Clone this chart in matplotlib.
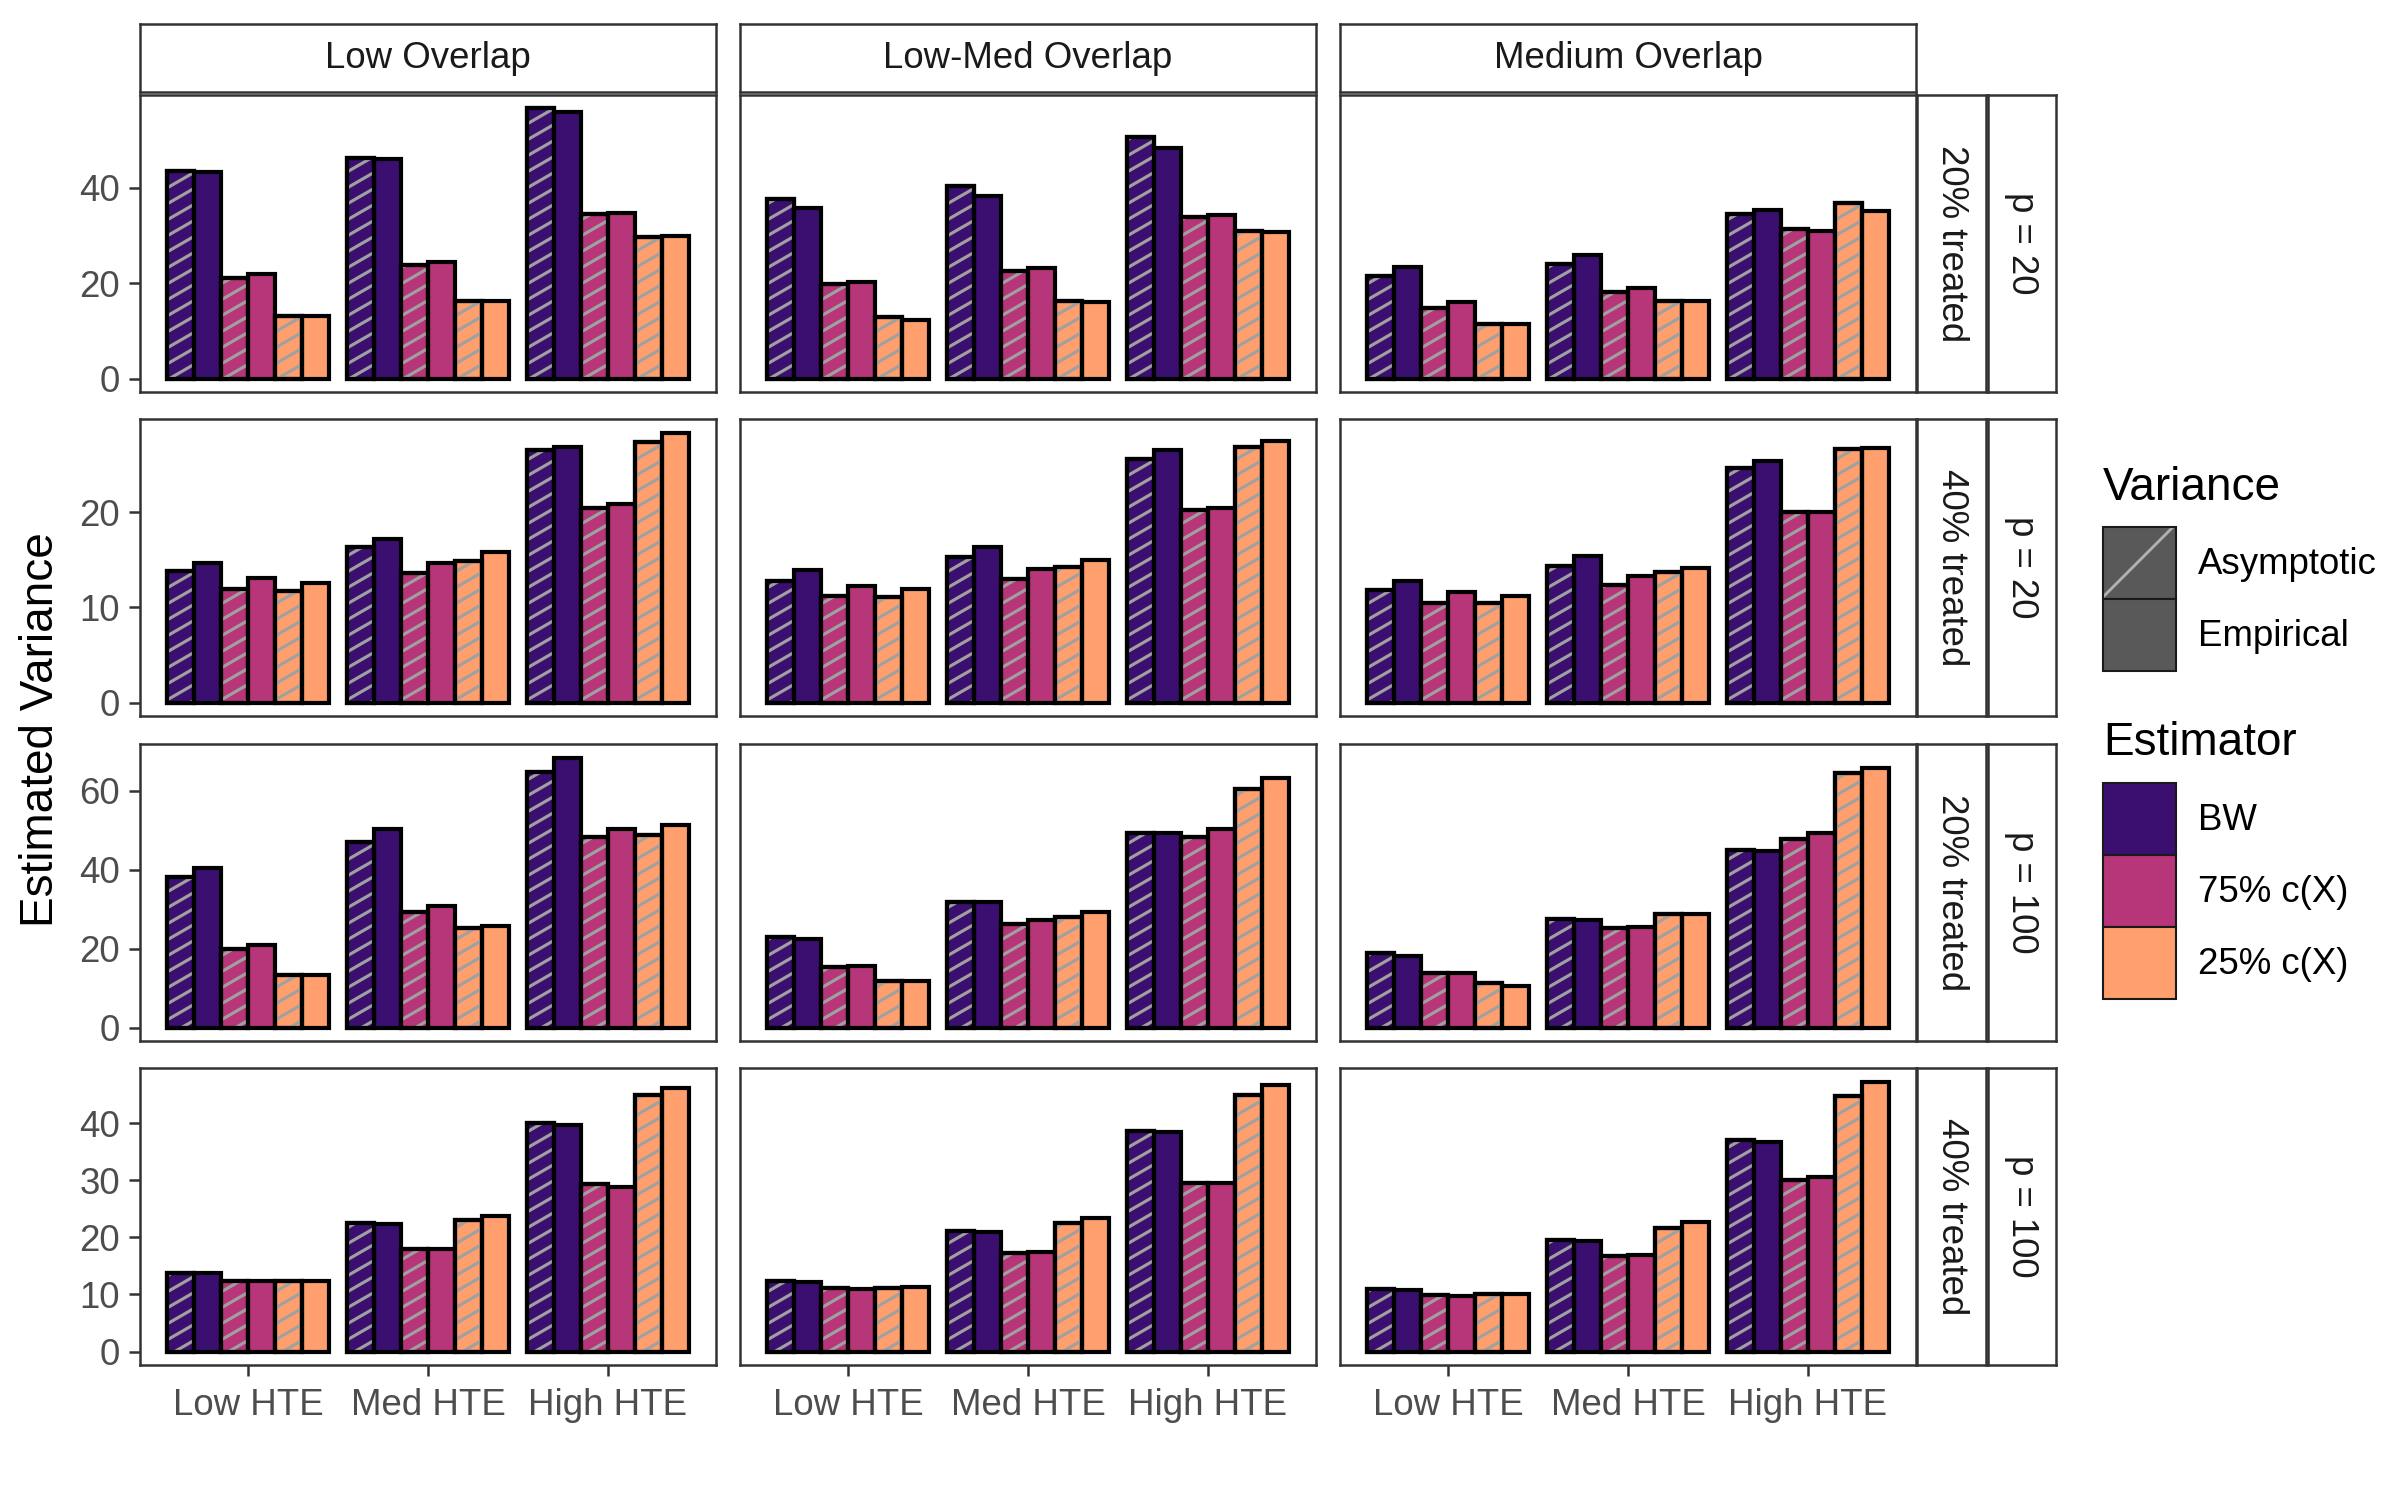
import numpy as np
import matplotlib
matplotlib.use("Agg")
import matplotlib.pyplot as plt
from matplotlib.patches import Patch
from matplotlib.collections import LineCollection
from matplotlib.transforms import IdentityTransform

plt.rcParams['font.family'] = ['Liberation Sans', 'DejaVu Sans']
plt.rcParams['hatch.linewidth'] = 0.7

overlaps = ["Low Overlap", "Low-Med Overlap", "Medium Overlap"]
treated = ["20% treated", "40% treated", "20% treated", "40% treated"]
p_labels = ["p = 20", "p = 20", "p = 100", "p = 100"]
hte = ["Low HTE", "Med HTE", "High HTE"]
estimators = ["BW", "75% c(X)", "25% c(X)"]
est_colors = ["#3B0F70", "#B63679", "#FE9F6D"]
y_ticks = [[0, 20, 40], [0, 10, 20], [0, 20, 40, 60], [0, 10, 20, 30, 40]]

# values: [row][overlap][hte]
bw_asym = [
    [[43.6, 46.2, 56.6], [37.7, 40.3, 50.7], [21.5, 24.1, 34.5]],
    [[13.8, 16.4, 26.6], [12.8, 15.3, 25.6], [11.8, 14.4, 24.7]],
    [[38.2, 47.1, 64.7], [22.9, 31.8, 49.2], [18.8, 27.5, 45.0]],
    [[13.8, 22.5, 40.0], [12.4, 21.1, 38.7], [10.9, 19.5, 37.0]],
]
bw_emp = [
    [[43.3, 46.0, 55.9], [35.7, 38.3, 48.4], [23.4, 25.8, 35.4]],
    [[14.7, 17.2, 26.9], [13.9, 16.4, 26.6], [12.8, 15.4, 25.4]],
    [[40.5, 50.3, 68.4], [22.5, 31.8, 49.4], [18.2, 27.2, 44.8]],
    [[13.8, 22.4, 39.6], [12.1, 20.9, 38.4], [10.7, 19.4, 36.7]],
]
c75_asym = [
    [[21.0, 23.7, 34.4], [19.8, 22.6, 33.8], [14.8, 18.1, 31.4]],
    [[11.9, 13.6, 20.5], [11.2, 13.0, 20.2], [10.5, 12.4, 20.0]],
    [[19.8, 29.3, 48.3], [15.4, 26.3, 48.2], [13.8, 25.1, 47.8]],
    [[12.3, 17.9, 29.3], [11.1, 17.3, 29.6], [9.9, 16.7, 30.1]],
]
c75_emp = [
    [[22.0, 24.5, 34.6], [20.3, 23.2, 34.3], [16.0, 19.0, 31.0]],
    [[13.1, 14.7, 20.9], [12.3, 14.0, 20.5], [11.6, 13.3, 20.0]],
    [[20.9, 30.9, 50.4], [15.7, 27.3, 50.3], [13.8, 25.5, 49.3]],
    [[12.3, 17.9, 28.9], [11.0, 17.5, 29.5], [9.7, 16.9, 30.6]],
]
c25_asym = [
    [[13.2, 16.3, 29.7], [12.9, 16.3, 31.0], [11.5, 16.3, 36.8]],
    [[11.7, 14.9, 27.4], [11.1, 14.3, 26.9], [10.5, 13.7, 26.7]],
    [[13.2, 25.1, 48.8], [11.9, 28.0, 60.4], [11.3, 28.8, 64.4]],
    [[12.3, 23.1, 45.0], [11.2, 22.5, 45.0], [10.1, 21.7, 44.7]],
]
c25_emp = [
    [[13.2, 16.3, 29.9], [12.3, 16.0, 30.7], [11.5, 16.2, 35.2]],
    [[12.6, 15.8, 28.4], [11.9, 15.0, 27.5], [11.2, 14.2, 26.8]],
    [[13.2, 25.8, 51.4], [11.7, 29.2, 63.2], [10.5, 28.8, 65.8]],
    [[12.3, 23.7, 46.2], [11.3, 23.4, 46.6], [10.1, 22.7, 47.3]],
]

series = [
    (bw_asym, 0, True), (bw_emp, 0, False),
    (c75_asym, 1, True), (c75_emp, 1, False),
    (c25_asym, 2, True), (c25_emp, 2, False),
]

W, H = 2400, 1500
fig = plt.figure(figsize=(8, 5), dpi=300)

col_x = [140, 740, 1340]
col_w = 576
row_y = [95, 419, 744, 1068]
row_h = 297
border = "#333333"


def frac(x, y, w, h):
    return [x / W, 1 - (y + h) / H, w / W, h / H]


def strip(rect, label, rot=0):
    sa = fig.add_axes(frac(*rect))
    sa.set_xticks([])
    sa.set_yticks([])
    sa.set_facecolor("white")
    for s in sa.spines.values():
        s.set_color(border)
        s.set_linewidth(0.6)
    sa.text(0.5, 0.5, label, ha="center", va="center", rotation=rot,
            fontsize=8.8, color="#1A1A1A", transform=sa.transAxes)


def add_stripes(ax, bars, spacing=16, angle=30):
    # diagonal stripes (pattern) drawn in pixel space, clipped to each bar
    for b in bars:
        bb = b.get_window_extent()
        x0, y0, x1, y1 = bb.x0, bb.y0, bb.x1, bb.y1
        rise = np.tan(np.radians(angle)) * (x1 - x0)
        c = np.floor((y0 - rise) / spacing) * spacing
        segs = []
        while c < y1:
            segs.append([(x0, c), (x1, c + rise)])
            c += spacing
        lc = LineCollection(segs, colors="#A0A0A0", linewidths=0.75,
                            transform=IdentityTransform(), zorder=2.5)
        ax.add_collection(lc, autolim=False)
        lc.set_clip_path(b)


x = np.arange(1, 4)
width = 0.15
offsets = (np.arange(6) - 2.5) * width

for r in range(4):
    rmax = max(max(max(v) for v in s[r]) for s, _, _ in series)
    for c in range(3):
        ax = fig.add_axes(frac(col_x[c], row_y[r], col_w, row_h))
        ax.set_xlim(0.4, 3.6)
        ax.set_ylim(-0.05 * rmax, 1.05 * rmax)
        for k, (data, ei, asym) in enumerate(series):
            vals = data[r][c]
            bars = ax.bar(x + offsets[k], vals, width=width, color=est_colors[ei],
                          edgecolor="black", linewidth=1.0, zorder=2)
            if asym:
                add_stripes(ax, bars)
                ax.bar(x + offsets[k], vals, width=width, facecolor="none",
                       edgecolor="black", linewidth=1.0, zorder=3)
        for s in ax.spines.values():
            s.set_color(border)
            s.set_linewidth(0.6)
        ax.set_xticks(x)
        ax.set_yticks(y_ticks[r])
        ax.tick_params(axis="both", length=2.6, width=0.6, color=border,
                       labelsize=8.8, labelcolor="#4D4D4D", pad=2.2)
        if r == 3:
            ax.set_xticklabels(hte)
            ax.tick_params(axis="x", pad=3)
        else:
            ax.tick_params(axis="x", length=0, labelbottom=False)
        if c > 0:
            ax.tick_params(axis="y", length=0, labelleft=False)
        if r == 0:
            strip((col_x[c], 24, col_w, 68), overlaps[c])
    strip((1917, row_y[r], 69, row_h), treated[r], rot=-90)
    strip((1988, row_y[r], 68, row_h), p_labels[r], rot=-90)

fig.text(41 / W, 1 - 730 / H, "Estimated Variance", rotation=90, ha="center",
         va="center", fontsize=11, color="black")

# legends
fig.text(2103 / W, 1 - 500 / H, "Variance", fontsize=11, ha="left", va="baseline")
fig.text(2103 / W, 1 - 755 / H, "Estimator", fontsize=11, ha="left", va="baseline")

var_handles = [
    (Patch(facecolor="#595959", hatch="/", edgecolor="#AFAFAF", linewidth=0),
     Patch(facecolor="none", edgecolor="#1A1A1A", linewidth=0.5)),
    Patch(facecolor="#595959", edgecolor="#1A1A1A", linewidth=0.5),
]
leg_kw = dict(loc="upper left", frameon=False, fontsize=8.8, handlelength=1.99,
              handleheight=2.64, labelspacing=0, handletextpad=0.6,
              borderpad=0, borderaxespad=0)
fig.legend(var_handles, ["Asymptotic", "Empirical"],
           bbox_to_anchor=(2103 / W, 1 - 527 / H), **leg_kw)
est_handles = [Patch(facecolor=col, edgecolor="#1A1A1A", linewidth=0.5) for col in est_colors]
fig.legend(est_handles, estimators, bbox_to_anchor=(2103 / W, 1 - 783 / H), **leg_kw)

fig.savefig("out.png", dpi=300, facecolor="white")
